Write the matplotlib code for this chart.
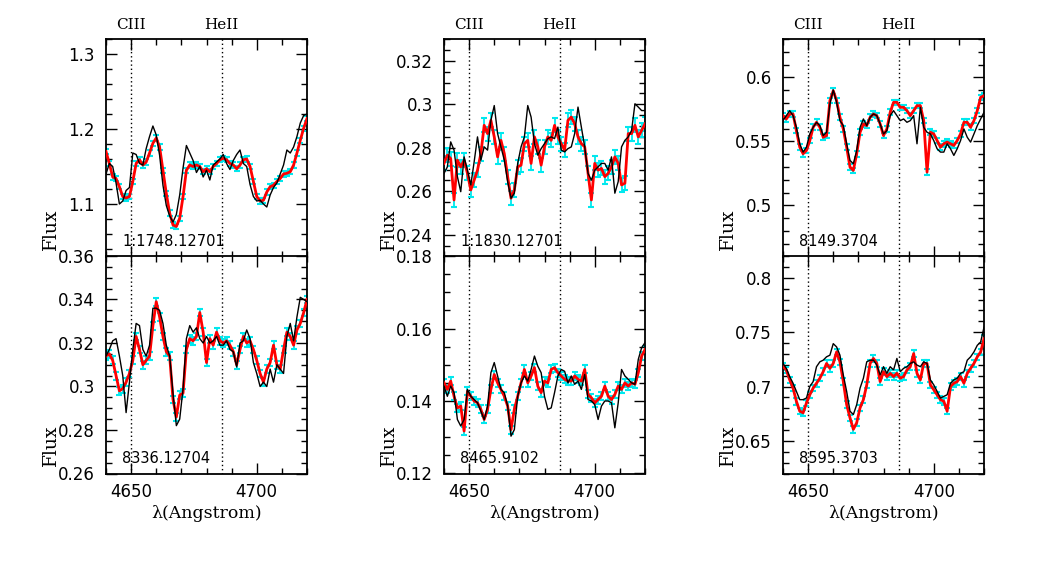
import numpy as np
import matplotlib
matplotlib.use("Agg")
import matplotlib.pyplot as plt
from matplotlib.ticker import MultipleLocator

# wavelength grid (Angstrom) shared by all spectra
wave = np.linspace(4640, 4720, 61)

# ---- panel data ----
red_1 = [1.170, 1.154, 1.136, 1.134, 1.123, 1.110, 1.108, 1.110, 1.130, 1.154,
         1.159, 1.152, 1.156, 1.168, 1.181, 1.188, 1.176, 1.145, 1.114, 1.088,
         1.072, 1.070, 1.081, 1.110, 1.145, 1.152, 1.150, 1.152, 1.150, 1.143,
         1.147, 1.143, 1.150, 1.154, 1.159, 1.161, 1.159, 1.154, 1.152, 1.147,
         1.152, 1.159, 1.160, 1.150, 1.130, 1.110, 1.104, 1.105, 1.116, 1.123,
         1.125, 1.130, 1.134, 1.140, 1.141, 1.143, 1.152, 1.168, 1.185, 1.201, 1.214]
black_1 = [1.140, 1.154, 1.150, 1.128, 1.100, 1.104, 1.118, 1.122, 1.168, 1.166,
           1.154, 1.152, 1.174, 1.190, 1.204, 1.192, 1.165, 1.125, 1.098, 1.084,
           1.076, 1.086, 1.112, 1.148, 1.178, 1.168, 1.158, 1.142, 1.150, 1.136,
           1.145, 1.132, 1.152, 1.156, 1.160, 1.166, 1.154, 1.146, 1.158, 1.166,
           1.172, 1.154, 1.150, 1.126, 1.110, 1.104, 1.105, 1.100, 1.096, 1.112,
           1.122, 1.128, 1.140, 1.152, 1.172, 1.168, 1.176, 1.190, 1.208, 1.218, 1.220]

red_2 = [0.2728, 0.2766, 0.2750, 0.2560, 0.2743, 0.2712, 0.2743, 0.2682, 0.2606, 0.2651,
         0.2697, 0.2773, 0.2903, 0.2865, 0.2926, 0.2850, 0.2758, 0.2834, 0.2773, 0.2667,
         0.2568, 0.2606, 0.2712, 0.2720, 0.2819, 0.2834, 0.2728, 0.2850, 0.2804, 0.2720,
         0.2804, 0.2850, 0.2834, 0.2903, 0.2850, 0.2819, 0.2789, 0.2926, 0.2941, 0.2910,
         0.2850, 0.2819, 0.2804, 0.2682, 0.2560, 0.2728, 0.2697, 0.2705, 0.2667, 0.2682,
         0.2712, 0.2758, 0.2728, 0.2629, 0.2637, 0.2865, 0.2865, 0.2903, 0.2850, 0.2880, 0.2910]
black_2 = [0.2682, 0.2712, 0.2827, 0.2789, 0.2667, 0.2598, 0.2758, 0.2697, 0.2629, 0.2735,
           0.2850, 0.2743, 0.2804, 0.2789, 0.2926, 0.2994, 0.2865, 0.2804, 0.2743, 0.2644,
           0.2568, 0.2591, 0.2728, 0.2804, 0.2850, 0.2994, 0.2941, 0.2819, 0.2766, 0.2796,
           0.2819, 0.2842, 0.2850, 0.2842, 0.2895, 0.2789, 0.2781, 0.2796, 0.2804, 0.2865,
           0.2987, 0.2895, 0.2804, 0.2682, 0.2651, 0.2697, 0.2712, 0.2728, 0.2728, 0.2697,
           0.2758, 0.2591, 0.2644, 0.2804, 0.2834, 0.2850, 0.2880, 0.3002, 0.2987, 0.2971, 0.2971]

red_3 = [0.5701, 0.5675, 0.5714, 0.5714, 0.5584, 0.5455, 0.5403, 0.5429, 0.5506, 0.5610,
         0.5649, 0.5610, 0.5532, 0.5545, 0.5818, 0.5896, 0.5818, 0.5688, 0.5597, 0.5455,
         0.5299, 0.5273, 0.5403, 0.5571, 0.5636, 0.5623, 0.5688, 0.5714, 0.5701, 0.5636,
         0.5545, 0.5597, 0.5727, 0.5805, 0.5805, 0.5766, 0.5766, 0.5740, 0.5701, 0.5740,
         0.5779, 0.5779, 0.5662, 0.5260, 0.5571, 0.5558, 0.5506, 0.5455, 0.5481, 0.5494,
         0.5481, 0.5468, 0.5506, 0.5558, 0.5649, 0.5649, 0.5610, 0.5662, 0.5740, 0.5844, 0.5857]
black_3 = [0.5662, 0.5701, 0.5740, 0.5701, 0.5610, 0.5481, 0.5416, 0.5455, 0.5558, 0.5610,
           0.5649, 0.5623, 0.5545, 0.5571, 0.5792, 0.5901, 0.5805, 0.5662, 0.5623, 0.5481,
           0.5351, 0.5325, 0.5429, 0.5610, 0.5675, 0.5623, 0.5688, 0.5714, 0.5701, 0.5636,
           0.5558, 0.5584, 0.5701, 0.5740, 0.5701, 0.5662, 0.5675, 0.5649, 0.5662, 0.5701,
           0.5481, 0.5766, 0.5610, 0.5571, 0.5558, 0.5506, 0.5442, 0.5416, 0.5416, 0.5481,
           0.5442, 0.5390, 0.5442, 0.5506, 0.5597, 0.5532, 0.5494, 0.5558, 0.5623, 0.5675, 0.5727]

red_4 = [0.314, 0.315, 0.312, 0.305, 0.298, 0.299, 0.302, 0.306, 0.312, 0.323,
         0.317, 0.310, 0.312, 0.314, 0.328, 0.339, 0.332, 0.323, 0.316, 0.314,
         0.294, 0.286, 0.296, 0.297, 0.317, 0.322, 0.321, 0.323, 0.334, 0.325,
         0.311, 0.322, 0.319, 0.325, 0.321, 0.320, 0.321, 0.319, 0.316, 0.310,
         0.317, 0.323, 0.320, 0.321, 0.317, 0.312, 0.306, 0.302, 0.308, 0.311,
         0.319, 0.310, 0.308, 0.317, 0.325, 0.323, 0.319, 0.326, 0.329, 0.334, 0.340]
black_4 = [0.314, 0.317, 0.321, 0.322, 0.314, 0.305, 0.288, 0.302, 0.317, 0.329,
           0.328, 0.317, 0.314, 0.319, 0.336, 0.336, 0.335, 0.329, 0.319, 0.314,
           0.297, 0.282, 0.285, 0.299, 0.322, 0.328, 0.325, 0.327, 0.322, 0.320,
           0.323, 0.320, 0.321, 0.323, 0.319, 0.319, 0.321, 0.317, 0.316, 0.309,
           0.320, 0.321, 0.326, 0.322, 0.311, 0.306, 0.300, 0.302, 0.300, 0.308,
           0.302, 0.310, 0.308, 0.306, 0.323, 0.329, 0.321, 0.332, 0.341, 0.340, 0.339]

red_5 = [0.1450, 0.1432, 0.1455, 0.1413, 0.1381, 0.1386, 0.1317, 0.1427, 0.1413, 0.1400,
         0.1395, 0.1377, 0.1349, 0.1377, 0.1432, 0.1473, 0.1450, 0.1432, 0.1413, 0.1386,
         0.1321, 0.1377, 0.1413, 0.1450, 0.1487, 0.1450, 0.1469, 0.1492, 0.1441, 0.1423,
         0.1455, 0.1450, 0.1487, 0.1492, 0.1478, 0.1469, 0.1460, 0.1455, 0.1455, 0.1469,
         0.1460, 0.1455, 0.1487, 0.1418, 0.1409, 0.1395, 0.1404, 0.1413, 0.1441, 0.1413,
         0.1404, 0.1418, 0.1441, 0.1432, 0.1450, 0.1441, 0.1450, 0.1446, 0.1478, 0.1524, 0.1542]
black_5 = [0.1441, 0.1413, 0.1441, 0.1423, 0.1349, 0.1331, 0.1349, 0.1432, 0.1413, 0.1404,
           0.1395, 0.1372, 0.1349, 0.1386, 0.1478, 0.1506, 0.1469, 0.1432, 0.1423, 0.1386,
           0.1303, 0.1321, 0.1413, 0.1450, 0.1469, 0.1455, 0.1487, 0.1524, 0.1496, 0.1478,
           0.1413, 0.1377, 0.1381, 0.1423, 0.1469, 0.1487, 0.1482, 0.1450, 0.1469, 0.1446,
           0.1455, 0.1432, 0.1473, 0.1404, 0.1400, 0.1390, 0.1349, 0.1386, 0.1400, 0.1400,
           0.1395, 0.1326, 0.1395, 0.1487, 0.1469, 0.1460, 0.1450, 0.1446, 0.1515, 0.1547, 0.1561]

red_6 = [0.7182, 0.7152, 0.7061, 0.6985, 0.6864, 0.6773, 0.6758, 0.6848, 0.6924, 0.6985,
         0.7030, 0.7076, 0.7136, 0.7212, 0.7167, 0.7212, 0.7318, 0.7227, 0.7045, 0.6833,
         0.6712, 0.6606, 0.6667, 0.6803, 0.6879, 0.7015, 0.7212, 0.7258, 0.7212, 0.7045,
         0.7136, 0.7091, 0.7121, 0.7091, 0.7121, 0.7076, 0.7091, 0.7152, 0.7182, 0.7303,
         0.7121, 0.7061, 0.7212, 0.7212, 0.7015, 0.6970, 0.6924, 0.6879, 0.6864, 0.6773,
         0.7000, 0.7030, 0.7045, 0.7091, 0.7030, 0.7121, 0.7167, 0.7212, 0.7273, 0.7318, 0.7439]
black_6 = [0.7212, 0.7167, 0.7091, 0.7030, 0.6955, 0.6879, 0.6879, 0.6894, 0.7000, 0.7045,
           0.7182, 0.7227, 0.7242, 0.7273, 0.7288, 0.7394, 0.7364, 0.7288, 0.7106, 0.6955,
           0.6773, 0.6742, 0.6833, 0.6985, 0.7076, 0.7227, 0.7242, 0.7242, 0.7197, 0.7106,
           0.7182, 0.7121, 0.7182, 0.7152, 0.7258, 0.7136, 0.7167, 0.7182, 0.7212, 0.7227,
           0.7197, 0.7182, 0.7227, 0.7212, 0.7061, 0.7015, 0.6955, 0.6894, 0.6909, 0.6924,
           0.7030, 0.7061, 0.7076, 0.7121, 0.7136, 0.7242, 0.7273, 0.7318, 0.7379, 0.7409, 0.7545]

red_series = [red_1, red_2, red_3, red_4, red_5, red_6]
black_series = [black_1, black_2, black_3, black_4, black_5, black_6]
errors = [0.0035, 0.0032, 0.0022, 0.0018, 0.0011, 0.0030]
labels = ["1:1748.12701", "1:1830.12701", "8149.3704",
          "8336.12704", "8465.9102", "8595.3703"]
ylims = [(1.03, 1.32), (0.23, 0.33), (0.46, 0.63),
         (0.26, 0.36), (0.12, 0.18), (0.62, 0.82)]
ymajor = [0.1, 0.02, 0.05, 0.02, 0.02, 0.05]
yminor = [0.02, 0.005, 0.01, 0.005, 0.005, 0.01]
line_names = ["CIII", "HeII"]
line_waves = [4650.0, 4686.0]
xlim = (4640, 4720)

W, H = 1046, 572
fig = plt.figure(figsize=(W / 100, H / 100), dpi=100)

col_left = [106, 444, 783]
pan_w = 201
row_top = [39, 256]
pan_h = 217.5

for i in range(6):
    r, c = divmod(i, 3)
    x0 = col_left[c] / W
    y0 = 1 - (row_top[r] + pan_h) / H
    ax = fig.add_axes([x0, y0, pan_w / W, pan_h / H])
    ax.errorbar(wave, red_series[i], yerr=errors[i], fmt='none',
                ecolor='#00e8ee', elinewidth=1.3, capsize=2.5, capthick=1.5, zorder=2)
    ax.plot(wave, red_series[i], color='red', lw=2.0, zorder=3)
    ax.plot(wave, black_series[i], color='black', lw=1.0, zorder=4)
    for lw_ in line_waves:
        ax.axvline(lw_, color='black', ls=(0, (1, 2)), lw=1.0, zorder=1)
    ax.set_xlim(*xlim)
    ax.set_ylim(*ylims[i])
    ax.xaxis.set_major_locator(MultipleLocator(50))
    ax.xaxis.set_minor_locator(MultipleLocator(10))
    ax.yaxis.set_major_locator(MultipleLocator(ymajor[i]))
    ax.yaxis.set_minor_locator(MultipleLocator(yminor[i]))
    ax.tick_params(which='both', direction='in', top=True, right=True,
                   labelsize=12, width=1.0)
    ax.tick_params(which='major', length=8)
    ax.tick_params(which='minor', length=4)
    ax.tick_params(axis='y', which='both', pad=8)
    ax.tick_params(axis='x', which='both', pad=7)
    for s in ax.spines.values():
        s.set_linewidth(1.3)
    if r == 0:
        ax.tick_params(axis='x', labelbottom=False)
        for name, lw_ in zip(line_names, line_waves):
            ax.text(lw_, 1.03, name, transform=ax.get_xaxis_transform(),
                    ha='center', va='bottom', fontsize=11, family='DejaVu Serif')
    else:
        ax.set_xlabel("λ(Angstrom)", fontsize=12.5, family='DejaVu Serif', labelpad=3)
    ax.yaxis.set_major_formatter(matplotlib.ticker.FuncFormatter(
        lambda v, p: ("%g" % round(v, 4))))
    ax.text(0.08, 0.035, labels[i], transform=ax.transAxes, ha='left', va='bottom',
            fontsize=10.5)
    # Flux label
    yc = [229, 445][r]
    fig.text((col_left[c] - 55) / W, 1 - yc / H, "Flux", rotation=90,
             ha='center', va='center', fontsize=13.5, family='DejaVu Serif')

fig.savefig("out.png", dpi=100)
